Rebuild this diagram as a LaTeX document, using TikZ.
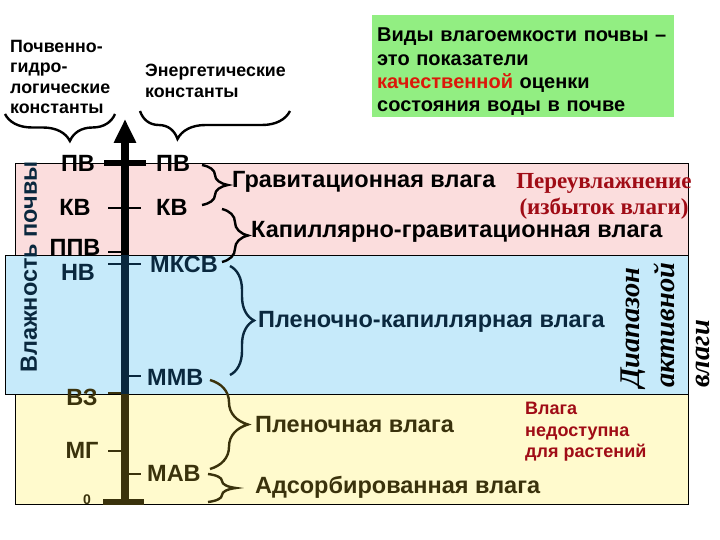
\documentclass[tikz,border=0pt]{standalone}
\usepackage{fontspec}
\setmainfont{Liberation Sans}
\newfontfamily\tnr{Liberation Serif}
\usetikzlibrary{
	arrows.meta,
	decorations.pathreplacing
}
\definecolor{pinkband}{RGB}{251,221,221}
\definecolor{blueband}{RGB}{198,234,250}
\definecolor{yellowband}{RGB}{255,250,205}
\definecolor{greenbox}{RGB}{146,238,130}
\definecolor{navyink}{RGB}{10,40,62}
\definecolor{oliveink}{RGB}{58,50,12}
\definecolor{darkred}{RGB}{160,12,22}
\definecolor{brightred}{RGB}{220,24,10}
\tikzset{
	band/.style={draw=black, line width=.8pt},
	const/.style={font=\bfseries\fontsize{23.5}{27}\selectfont, inner sep=0pt},
	water/.style={font=\bfseries\fontsize{23.5}{27}\selectfont, inner sep=0pt, anchor=west},
	heading/.style={font=\bfseries\fontsize{17.8}{20.5}\selectfont, align=left, inner sep=0pt, anchor=north west},
	curly/.style={decorate, decoration={brace, amplitude=#1}, line width=2.4pt},
	notch/.style={line width=2pt},
	axis/.style={line width=7.5pt}
}

\begin{document}
\begin{tikzpicture}[x=1pt, y=-1pt]
	\useasboundingbox (0,0) rectangle (720,540);
	% полосы влажности
	\fill[pinkband, band] (15,163) rectangle (688,255);
	\fill[yellowband, band] (15,394) rectangle (688,504);
	\fill[blueband, band] (5,255) rectangle (688,394);

	% ось влажности
	\coordinate (zero) at (125,502);
	\coordinate (top) at (125,119);
	\draw[axis, -{Triangle[width=21pt, length=24pt]}] (zero) -- (top);
	\draw[axis, navyink] (125,255.4) -- (125,393.6);
	\draw[axis, oliveink] (125,394.4) -- (zero);
	\draw[line width=6pt] (104,163) -- (146,163);
	\draw[line width=6pt, oliveink] (103,502) -- (144,502);
	\foreach \y/\c in {208/black, 252/black, 264/navyink, 393/oliveink, 451/oliveink}
		\draw[notch, \c] (108,\y) -- (121,\y);
	\foreach \y/\c in {208/black, 264/navyink, 376/navyink, 474/oliveink}
		\draw[notch, \c] (129,\y) -- (141,\y);

	% почвенно-гидрологические константы
	\node[const] (pvL) at (78,163) {ПВ};
	\node[const] (kvL) at (75,207) {КВ};
	\node[const] (ppvL) at (75,247) {ППВ};
	\node[const, navyink] (nvL) at (78,272) {НВ};
	\node[const, oliveink] (vzL) at (82,397) {ВЗ};
	\node[const, oliveink] (mgL) at (82,450) {МГ};
	\node[const, oliveink, font=\bfseries\fontsize{14}{16}\selectfont] (zeroL) at (87,500) {0};

	% энергетические константы
	\node[const, anchor=west] (pvR) at (156,163) {ПВ};
	\node[const, anchor=west] (kvR) at (156,207) {КВ};
	\node[const, anchor=west, navyink] (mksvR) at (150,264) {МКСВ};
	\node[const, anchor=west, navyink] (mmvR) at (147,377) {ММВ};
	\node[const, anchor=west, oliveink] (mavR) at (147,473) {МАВ};

	% заголовки
	\node[heading] (hydro) at (10,40) {Почвенно-\\гидро-\\логические\\константы};
	\node[heading] (energy) at (145,64) {Энергетические\\константы};
	\draw[curly=27, decoration={mirror, aspect=0.59}] (5,114) -- (115,114);
	\draw[curly=28, decoration={mirror, aspect=0.25}] (140,111) -- (290,111);

	\node[fill=greenbox, anchor=north west, text width=292pt, minimum height=102pt,
		inner xsep=5pt, inner ysep=0pt, align=left, font=\bfseries\fontsize{20}{23.4}\selectfont] (kinds)
		at (372,15) {\rule{0pt}{25pt}Виды влагоемкости почвы –\\это показатели\\\textcolor{brightred}{качественной} оценки\\состояния воды в почве};

	% категории влаги
	\coordinate (b1a) at (202,165);
	\coordinate (b1b) at (202,205);
	\coordinate (b2a) at (222,209);
	\coordinate (b2b) at (222,262);
	\coordinate (b3a) at (230,266);
	\coordinate (b3b) at (230,375);
	\coordinate (b4a) at (210,380);
	\coordinate (b4b) at (210,469);
	\coordinate (b5a) at (208,474);
	\coordinate (b5b) at (208,502);
	\draw[curly=26] (b1a) -- (b1b);
	\draw[curly=26] (b2a) -- (b2b);
	\draw[curly=24, navyink] (b3a) -- (b3b);
	\draw[curly=38, oliveink] (b4a) -- (b4b);
	\draw[curly=28, oliveink] (b5a) -- (b5b);

	\node[water] (grav) at (232,182) {Гравитационная влага};
	\node[water] (capgrav) at (251,232) {Капиллярно-гравитационная влага};
	\node[water, navyink] (filmcap) at (258,322) {Пленочно-капиллярная влага};
	\node[water, oliveink] (film) at (255,425) {Пленочная влага};
	\node[water, oliveink] (adsorb) at (255,487) {Адсорбированная влага};

	\node[font=\tnr\bfseries\fontsize{23}{26}\selectfont, darkred, align=center, inner sep=0pt]
		(excess) at (604,196) {Переувлажнение\\(избыток влаги)};
	\node[font=\bfseries\fontsize{18}{21.5}\selectfont, darkred, align=left, anchor=north west,
		inner sep=0pt] (unavail) at (525,402) {Влага\\недоступна\\для растений};

	% вертикальные подписи
	\node[font=\bfseries\fontsize{23.5}{25}\selectfont, rotate=90, navyink, inner sep=0pt]
		(moist) at (29,267) {Влажность почвы};
	\node[rotate=90, anchor=north west, align=left, inner sep=0pt,
		font=\tnr\bfseries\itshape\fontsize{28.5}{35}\selectfont] (range) at (621,388) {Диапазон\\активной\\влаги};
\end{tikzpicture}
\end{document}
